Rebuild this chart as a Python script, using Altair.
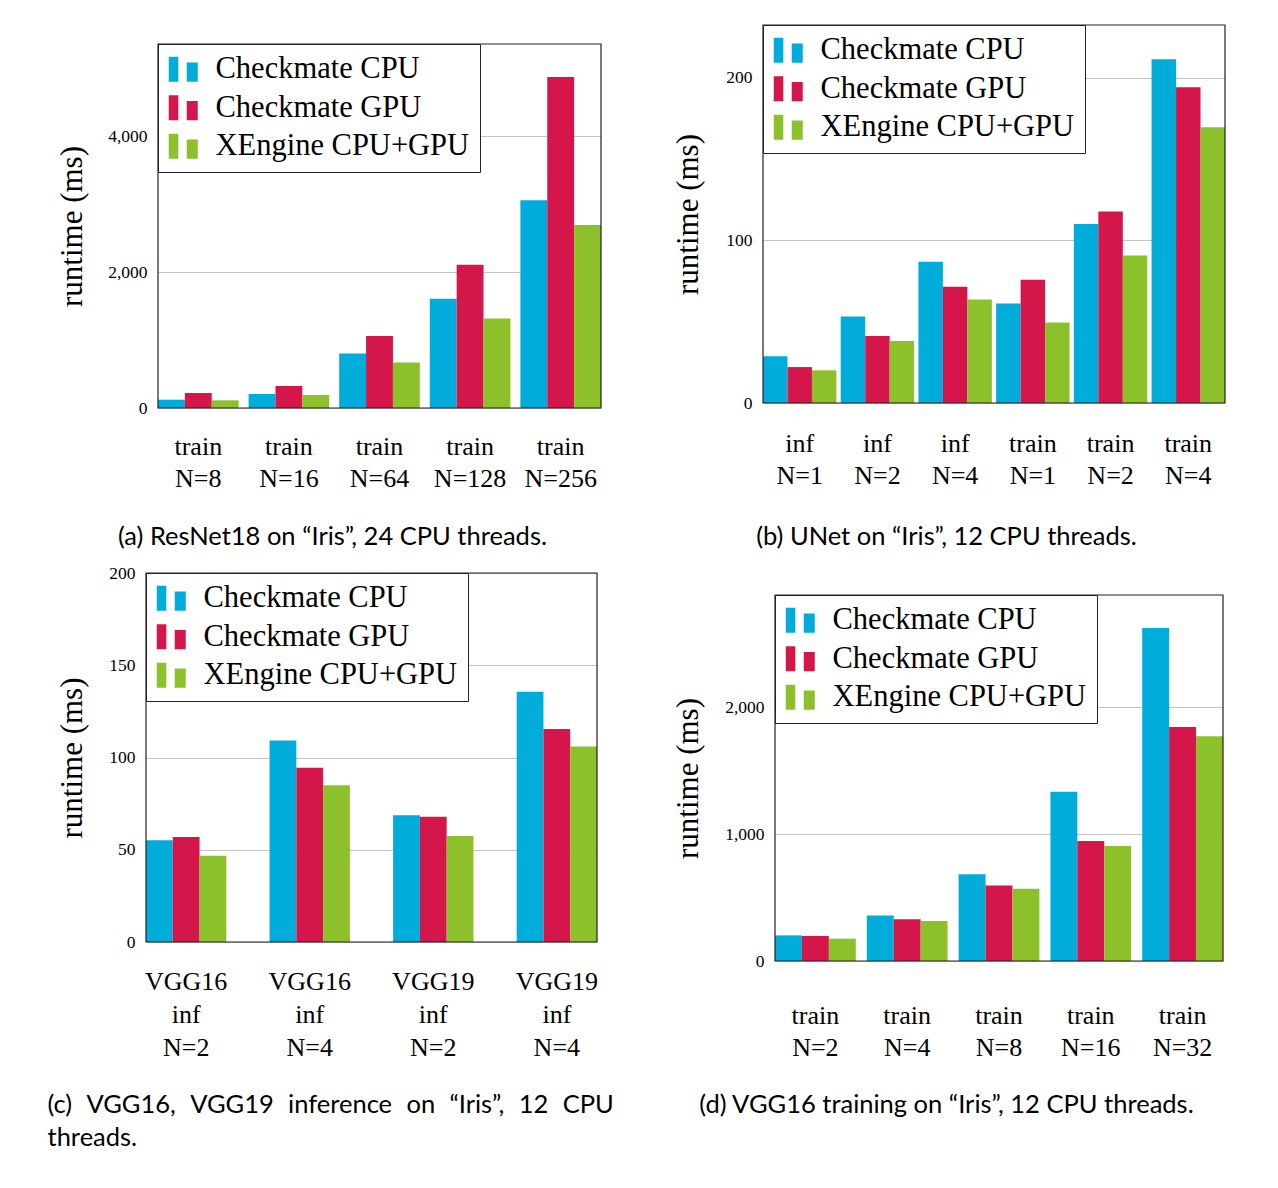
import altair as alt
import pandas as pd

SERIES = ["Checkmate CPU", "Checkmate GPU", "XEngine CPU+GPU"]
COLORS = ["#00ADDA", "#D5164A", "#8DC12B"]

# (a) ResNet18
a_cats = ["train|N=8", "train|N=16", "train|N=64", "train|N=128", "train|N=256"]
a_cpu = [122, 206, 801, 1607, 3056]
a_gpu = [221, 324, 1061, 2108, 4869]
a_xe = [113, 192, 668, 1317, 2693]
a_ticks = [0, 2000, 4000]

# (b) UNet
b_cats = ["inf|N=1", "inf|N=2", "inf|N=4", "train|N=1", "train|N=2", "train|N=4"]
b_cpu = [28.7, 53.3, 86.9, 61.3, 110.2, 211.5]
b_gpu = [22.1, 41.2, 71.5, 75.8, 117.8, 194.3]
b_xe = [20.1, 38.1, 63.7, 49.6, 90.8, 169.7]
b_ticks = [0, 100, 200]

# (c) VGG16/VGG19 inference
c_cats = ["VGG16|inf|N=2", "VGG16|inf|N=4", "VGG19|inf|N=2", "VGG19|inf|N=4"]
c_cpu = [55.1, 109.2, 68.7, 135.7]
c_gpu = [56.9, 94.4, 67.9, 115.4]
c_xe = [46.7, 85.0, 57.4, 106.0]
c_ticks = [0, 50, 100, 150, 200]

# (d) VGG16 training
d_cats = ["train|N=2", "train|N=4", "train|N=8", "train|N=16", "train|N=32"]
d_cpu = [202, 359, 684, 1334, 2626]
d_gpu = [197, 330, 595, 946, 1845]
d_xe = [176, 315, 569, 907, 1772]
d_ticks = [0, 1000, 2000]

SERIF = "Liberation Serif"
SANS = "Lato"
SYMBOL = "M-1,-0.86H-0.34V0.86H-1Z M0.24,-0.47H1V0.86H0.24Z"
W, H = 1262, 1172
GAP = "\u2002\u200a"  # widened word gap for the justified caption line


def table(cats, cpu, gpu, xe):
    rows = []
    for i, c in enumerate(cats):
        for s, v in zip(SERIES, (cpu[i], gpu[i], xe[i])):
            rows.append({"cat": c, "series": s, "value": v})
    return pd.DataFrame(rows)


def panel(df, cats, ticks, ymax, box, pad_inner, label_pad, line_h,
          ytitle_x, caption, cap_x, cap_y, cap_align):
    x0, x1, top, bottom = box
    bars = alt.Chart(df).mark_bar().encode(
        x=alt.X("cat:N", sort=cats,
                scale=alt.Scale(range=[x0, x1], paddingInner=pad_inner, paddingOuter=0),
                axis=alt.Axis(orient="bottom", offset=bottom - H, domain=False, ticks=False,
                              tickSize=0, labelAngle=0, labelFont=SERIF, labelFontSize=26,
                              labelColor="black", labelPadding=label_pad, labelLineHeight=line_h,
                              labelExpr="split(datum.label, '|')",
                              title=caption, titleFont=SANS, titleFontSize=25.5,
                              titleFontWeight="normal", titleColor="black",
                              titleX=cap_x, titleY=cap_y, titleAlign=cap_align,
                              titleBaseline="top", titleAngle=0, titleLineHeight=33)),
        xOffset=alt.XOffset("series:N", sort=SERIES, scale=alt.Scale(paddingInner=0, paddingOuter=0)),
        y=alt.Y("value:Q",
                scale=alt.Scale(domain=[0, ymax], range=[bottom, top], nice=False, zero=True),
                axis=alt.Axis(orient="left", offset=-x0, values=ticks, format=",d", domain=False,
                              ticks=False, tickSize=0, grid=True, gridColor="#c4c4c4", gridWidth=1,
                              labelFont=SERIF, labelFontSize=17.5, labelColor="black", labelPadding=11,
                              title="runtime (ms)", titleFont=SERIF, titleFontSize=31,
                              titleFontWeight="normal", titleColor="black",
                              titleX=ytitle_x, titleBaseline="middle")),
        color=alt.Color("series:N", sort=SERIES,
                        scale=alt.Scale(domain=SERIES, range=COLORS),
                        legend=alt.Legend(orient="none", legendX=x0, legendY=top, title=None,
                                          direction="vertical", labelFont=SERIF, labelFontSize=30.5,
                                          labelColor="black", symbolType=SYMBOL, symbolSize=841,
                                          symbolStrokeWidth=0, labelOffset=17, rowPadding=7.5,
                                          padding=10, strokeColor="#222222", fillColor="white",
                                          labelLimit=400)),
    )
    frame = alt.Chart(pd.DataFrame({"f": [0]})).mark_rect(
        fillOpacity=0, stroke="#222222", strokeWidth=1.2
    ).encode(x=alt.value(x0), x2=alt.value(x1), y=alt.value(top), y2=alt.value(bottom))
    return alt.layer(bars, frame)


pa = panel(table(a_cats, a_cpu, a_gpu, a_xe), a_cats, a_ticks, 5356,
           (150, 593, 36, 400), 0.11, 25, 32, -86,
           "(a) ResNet18 on \u201cIris\u201d, 24 CPU threads.", 324, 116, "center")
pb = panel(table(b_cats, b_cpu, b_gpu, b_xe), b_cats, b_ticks, 232.6,
           (755, 1217, 17, 395), 0.055, 27, 32, -75,
           "(b) UNet on \u201cIris\u201d, 12 CPU threads.", 938, 121, "center")
pc = panel(table(c_cats, c_cpu, c_gpu, c_xe), c_cats, c_ticks, 200,
           (138, 589, 565, 934), 0.35, 26, 33, -74,
           [GAP.join(["(c)", "VGG16,", "VGG19", "inference", "on", "\u201cIris\u201d,", "12", "CPU"]),
            "threads."], 39, 150, "left")
pd_ = panel(table(d_cats, d_cpu, d_gpu, d_xe), d_cats, d_ticks, 2886,
            (767, 1215, 587, 953), 0.12, 41, 32, -87,
            "(d) VGG16 training on \u201cIris\u201d, 12 CPU threads.", 938, 131, "center")

chart = alt.layer(pa, pb, pc, pd_).resolve_scale(
    x="independent", y="independent", xOffset="independent", color="independent"
).resolve_axis(x="independent", y="independent").resolve_legend(color="independent").properties(
    width=W, height=H, padding={"left": 0, "top": 0, "right": 0, "bottom": 0}
).configure_view(strokeWidth=0)

chart.save("out.html", embed_options={"renderer": "svg", "actions": False})
